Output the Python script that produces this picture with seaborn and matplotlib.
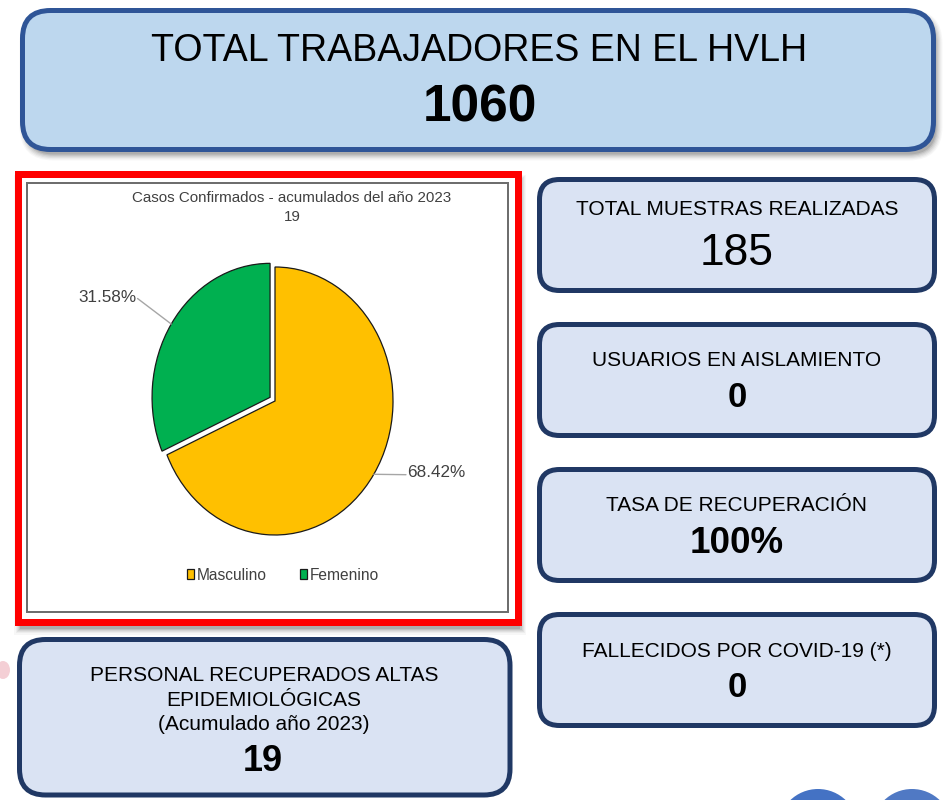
import numpy as np
import matplotlib
matplotlib.use("Agg")
import matplotlib.pyplot as plt
from matplotlib.patches import FancyBboxPatch, Rectangle, Circle, Ellipse
import seaborn as sns

sns.set_theme(style="white")
plt.rcParams['font.family'] = ['Liberation Sans', 'DejaVu Sans']

# ---------------- data ----------------
header_title = "TOTAL TRABAJADORES EN EL HVLH"
header_value = "1060"
pie_title = "Casos Confirmados - acumulados del año 2023"
pie_total = "19"
sexes = ["Masculino", "Femenino"]
shares = [68.42, 31.58]
pie_colors = ["#FFC000", "#00B050"]
kpi_titles = ["TOTAL MUESTRAS REALIZADAS", "USUARIOS EN AISLAMIENTO",
              "TASA DE RECUPERACIÓN", "FALLECIDOS POR COVID-19 (*)"]
kpi_values = ["185", "0", "100%", "0"]
recov_lines = ["PERSONAL RECUPERADOS ALTAS", "EPIDEMIOLÓGICAS", "(Acumulado año 2023)"]
recov_value = "19"

# ---------------- canvas ----------------
W, H = 948, 800
fig = plt.figure(figsize=(W / 100, H / 100), dpi=100)
fig.patch.set_facecolor("white")
bg = fig.add_axes([0, 0, 1, 1])
bg.set_xlim(0, W)
bg.set_ylim(H, 0)
bg.axis("off")

PX = 72 / 100  # points per pixel
NARROW = ["Liberation Sans Narrow", "Liberation Sans", "DejaVu Sans"]


def shadow(x0, y0, x1, y1, r, dx, dy, rect=False):
    for k, a in zip(range(6), [0.10, 0.08, 0.06, 0.05, 0.04, 0.03]):
        g = k * 1.2
        style = "square,pad=0" if rect else f"round,pad=0,rounding_size={r + g}"
        bg.add_patch(FancyBboxPatch((x0 + dx - g, y0 + dy - g), x1 - x0 + 2 * g, y1 - y0 + 2 * g,
                                    boxstyle=style, fc="black", ec="none", alpha=a, zorder=1))


def rbox(x0, y0, x1, y1, fc, ec, lw_px, r):
    bg.add_patch(FancyBboxPatch((x0, y0), x1 - x0, y1 - y0,
                                boxstyle=f"round,pad=0,rounding_size={r}",
                                fc=fc, ec=ec, lw=lw_px * PX, zorder=2))


def ctext(x, ycap, s, pt, bold=False, family=None, color="black"):
    em = pt * 100 / 72
    base = ycap + 0.716 * em / 2
    kw = {}
    if family:
        kw["family"] = family
    bg.text(x, base, s, ha="center", va="baseline", fontsize=pt,
            fontweight="bold" if bold else "normal", color=color, zorder=4, **kw)


# ---------------- header box ----------------
shadow(22.5, 10.5, 933.5, 149.5, 28, 3, 5)
rbox(22.5, 10.5, 933.5, 149.5, "#BDD7EE", "#2F5597", 5, 28)
ctext(479, 47.5, header_title, 27)
ctext(480, 103.5, header_value, 37, bold=True)

# ---------------- right KPI boxes ----------------
kpi_y = [(179.5, 290.5), (324.5, 435.5), (469.5, 580.5), (614.5, 725.5)]
kpi_title_y = [207.5, 359, 503.5, 649.5]
kpi_val_y = [249, 394.5, 539.5, 684.5]
kpi_val_pt = [32, 25, 26.5, 25]
kpi_bold = [False, True, True, True]
for (y0, y1), t, v, ty, vy, vp, b in zip(kpi_y, kpi_titles, kpi_values,
                                        kpi_title_y, kpi_val_y, kpi_val_pt, kpi_bold):
    rbox(539.5, y0, 934.5, y1, "#DAE3F3", "#203864", 5, 20)
    ctext(737, ty, t, 15)
    ctext(737, vy, v, vp, bold=b)

# ---------------- bottom-left box ----------------
rbox(19.5, 639.5, 510, 795, "#DAE3F3", "#203864", 5, 26)
for line, y in zip(recov_lines, [673.5, 698.5, 723]):
    ctext(264, y, line, 15)
ctext(263, 758.5, recov_value, 26, bold=True)

# ---------------- pie panel ----------------
shadow(18.5, 173.5, 518.5, 621.5, 0, 2, 7, rect=True)
bg.add_patch(Rectangle((18.5, 173.5), 500, 448, fc="white", ec="#FF0000",
                       lw=7 * PX, joinstyle="miter", zorder=2))
bg.add_patch(Rectangle((27, 183), 481, 429, fc="white", ec="#6E6E6E",
                       lw=2 * PX, zorder=2))
ctext(292, 196.5, pie_title, 10.9, family=NARROW, color="#404040")
ctext(292, 216, pie_total, 10.9, family=NARROW, color="#404040")

# pie axes: center (275, 401), rx 118 px, ry 134 px
cxp, cyp, rx, ry, k = 275, 401, 118, 134, 1.5
pax = fig.add_axes([(cxp - k * rx) / W, 1 - (cyp + k * ry) / H, 2 * k * rx / W, 2 * k * ry / H])
wedges, _ = pax.pie(shares, startangle=90, counterclock=False, colors=pie_colors,
                    explode=[0, 0.05],
                    wedgeprops=dict(edgecolor="#1A1A1A", linewidth=0.9))
pax.set_aspect("auto")
pax.set_xlim(-k, k)
pax.set_ylim(-k, k)
pax.axis("off")

label_pos = [(1.12, -0.53, "left"), (-1.175, 0.77, "right")]
line_end = [(1.11, -0.55), (-1.165, 0.765)]
for w, val, (lx, ly, ha), (ex, ey) in zip(wedges, shares, label_pos, line_end):
    ang = np.deg2rad((w.theta1 + w.theta2) / 2)
    wx = w.center[0] + w.r * np.cos(ang)
    wy = w.center[1] + w.r * np.sin(ang)
    pax.plot([wx, ex], [wy, ey], color="#A6A6A6", lw=1.0, clip_on=False, zorder=3)
    pax.text(lx, ly, f"{val:.2f}%", ha=ha, va="center", fontsize=12.3,
             family=NARROW, color="#404040", zorder=4)

leg = pax.legend(wedges, sexes, loc="center", bbox_to_anchor=(283 / W, 1 - 575 / H),
                 bbox_transform=fig.transFigure, ncol=2, frameon=False,
                 handlelength=0.45, handleheight=0.65, handletextpad=0.2,
                 columnspacing=2.1, prop=dict(family=NARROW, size=11.2))
for t in leg.get_texts():
    t.set_color("#404040")

# ---------------- decorations ----------------
bg.add_patch(Ellipse((3, 670), 14, 18, fc="#F2C4CB", ec="none", alpha=0.8, zorder=1))
bg.add_patch(Circle((818, 829), 40, fc="#4472C4", ec="none", zorder=1))
bg.add_patch(Circle((912, 829), 40, fc="#5079C4", ec="none", zorder=1))

fig.savefig("out.png", dpi=100, facecolor="white")
